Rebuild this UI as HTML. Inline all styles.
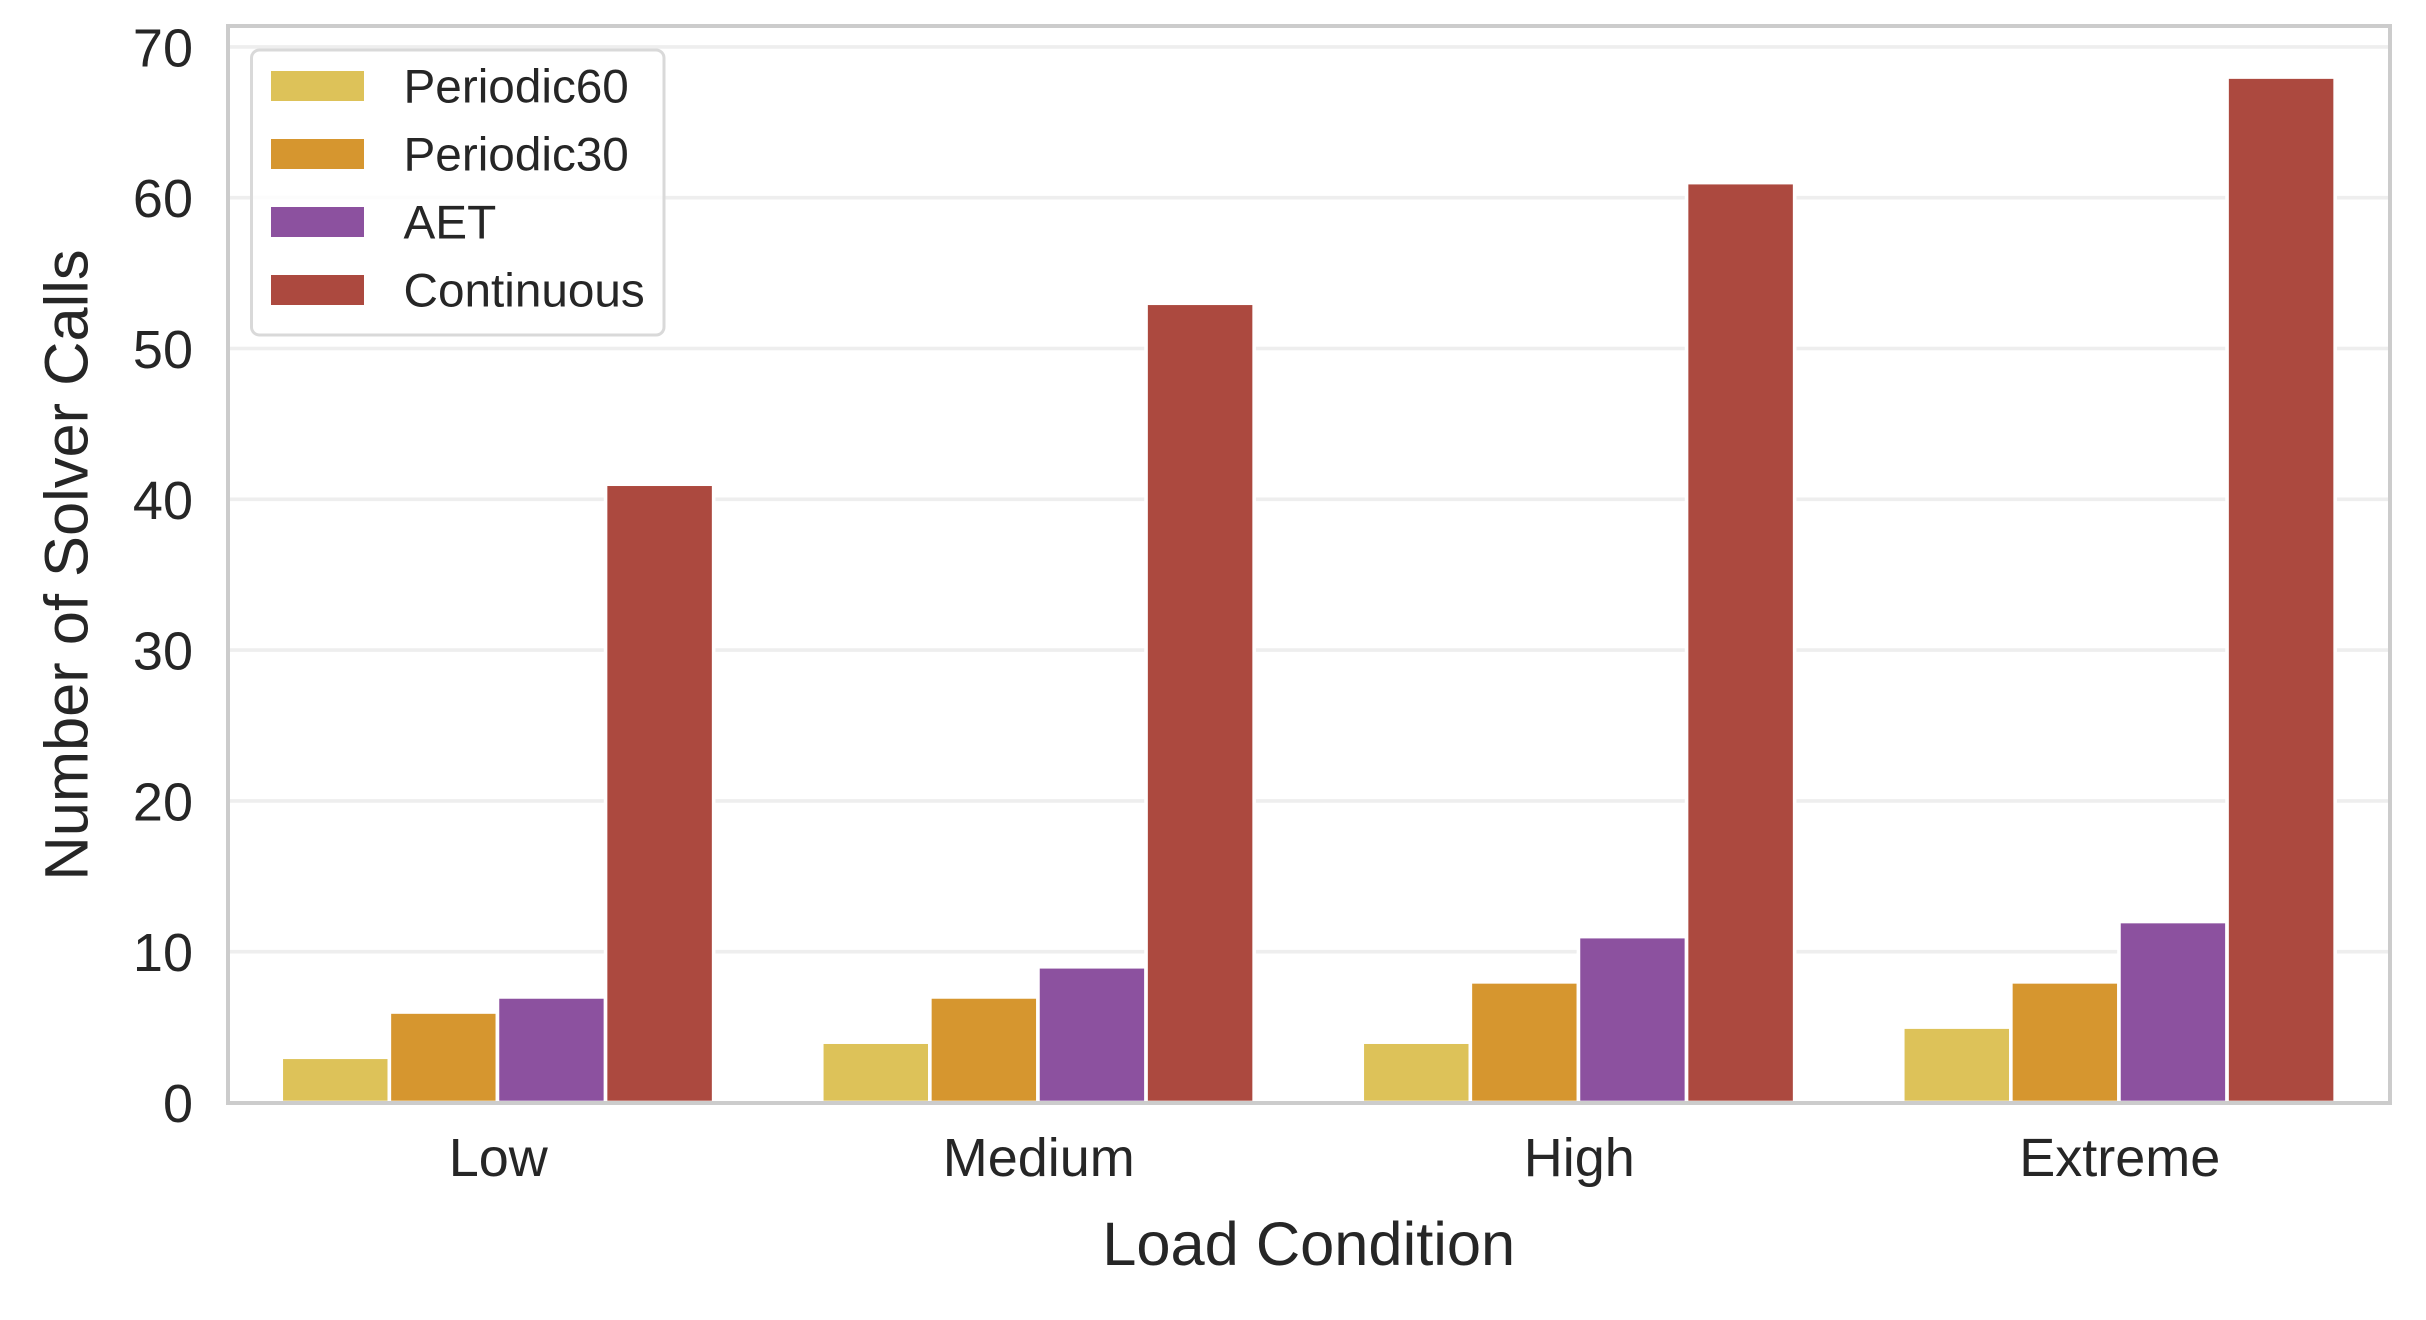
<!DOCTYPE html>
<html lang="en">
<head>
<meta charset="utf-8">
<title>Number of Solver Calls by Load Condition</title>
<style>
  html, body { margin: 0; padding: 0; background: #fff; width: 2426px; height: 1320px; overflow: hidden; }
  svg { display: block; font-family: "Liberation Sans", Arial, sans-serif; fill: #262626; }
</style>
</head>
<body>
<svg id="chart" xmlns="http://www.w3.org/2000/svg" width="2426" height="1320" viewBox="0 0 2426 1320"></svg>
<script>
const categories = ["Low", "Medium", "High", "Extreme"];
const seriesNames = ["Periodic60", "Periodic30", "AET", "Continuous"];
const periodic60Values = [3, 4, 4, 5];
const periodic30Values = [6, 7, 8, 8];
const aetValues = [7, 9, 11, 12];
const continuousValues = [41, 53, 61, 68];
const yTicks = [0, 10, 20, 30, 40, 50, 60, 70];
const xAxisTitle = "Load Condition";
const yAxisTitle = "Number of Solver Calls";

const seriesValues = [periodic60Values, periodic30Values, aetValues, continuousValues];
const seriesColors = ["#DDC259", "#D6962F", "#8C519F", "#AC493F"];

const svg = document.getElementById('chart');
const NS = 'http://www.w3.org/2000/svg';
const plot = { left: 228, right: 2390, top: 26, bottom: 1103 };
const yZeroPx = 1102.5;
const yUnitPx = 15.08;

function yScale(v) { return yZeroPx - v * yUnitPx; }
function xScale(i) { return plot.left + (i + 0.5) * (plot.right - plot.left) / categories.length; }
const groupWidth = 0.8 * (plot.right - plot.left) / categories.length;
const barWidth = groupWidth / seriesNames.length;
const barShift = -0.8;

function make(tag, attrs, parent, text) {
  const el = document.createElementNS(NS, tag);
  for (const k in attrs) el.setAttribute(k, attrs[k]);
  if (text !== undefined) el.textContent = text;
  (parent || svg).appendChild(el);
  return el;
}

// Background
const bg = make('rect', { x: 0, y: 0, width: 2426, height: 1320, fill: '#ffffff' });



// Gridlines and y tick labels
yTicks.forEach(function (t) {
  const y = yScale(t);
  if (t > 0) {
    const g = make('line', { x1: plot.left, x2: plot.right, y1: y, y2: y, stroke: '#eeeeee', 'stroke-width': 3.6 });
    
    
  }
  const lab = make('text', { x: 193, y: y + 19.5, 'text-anchor': 'end', 'font-size': 54 }, svg, String(t));
  
  
});

// Bars
seriesValues.forEach(function (vals, s) {
  vals.forEach(function (v, c) {
    const x0 = xScale(c) + barShift - groupWidth / 2 + s * barWidth;
    const y = yScale(v);
    const r = make('rect', {
      x: x0, y: y, width: barWidth, height: yZeroPx - y,
      fill: seriesColors[s], stroke: '#ffffff', 'stroke-width': 3.6
    });
    
    
  });
});

// Spines
const frame = make('rect', {
  x: plot.left, y: plot.top, width: plot.right - plot.left, height: plot.bottom - plot.top,
  fill: 'none', stroke: '#cccccc', 'stroke-width': 4
});



// X tick labels
categories.forEach(function (c, i) {
  const lab = make('text', { x: xScale(i), y: 1176, 'text-anchor': 'middle', 'font-size': 54 }, svg, c);
  
  
});

// Axis titles
const xTitle = make('text', { x: 1308.7, y: 1265, 'text-anchor': 'middle', 'font-size': 61.4 }, svg, xAxisTitle);



const yTitle = make('text', { x: 0, y: 0, 'text-anchor': 'middle', 'font-size': 61.4, transform: 'translate(87.3 565) rotate(-90)' }, svg, yAxisTitle);



// Legend
const legend = make('g', {});


const legendBox = make('rect', {
  x: 251.5, y: 50, width: 412.5, height: 285, rx: 8, ry: 8,
  fill: '#ffffff', 'fill-opacity': 0.8, stroke: '#d9d9d9', 'stroke-width': 3
}, legend);



seriesNames.forEach(function (name, i) {
  const top = 71 + i * 68;
  const swatch = make('rect', { x: 271, y: top, width: 93, height: 30, fill: seriesColors[i] }, legend);
  
  
  const label = make('text', { x: 403.5, y: top + 31.5, 'font-size': 47.7 }, legend, name);
  
  
});
</script>
</body>
</html>
